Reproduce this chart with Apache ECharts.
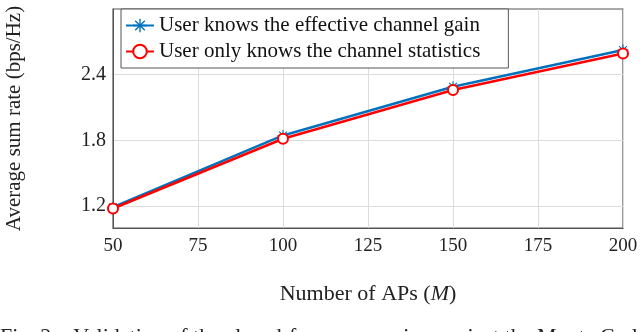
<!DOCTYPE html>
<html>
<head>
<meta charset="utf-8">
<script src="https://cdn.jsdelivr.net/npm/echarts@6/dist/echarts.min.js"></script>
<style>
html, body { margin: 0; padding: 0; background: #fff; }
#chart { width: 640px; height: 332px; }
</style>
</head>
<body>
<div id="chart"></div>
<script>
const apCounts = [50, 100, 150, 200];
const knowsGain = [1.19, 1.845, 2.29, 2.625];
const knowsStats = [1.178, 1.815, 2.26, 2.594];
const yTicks = [1.2, 1.8, 2.4];
const seriesNames = ['User knows the effective channel gain', 'User only knows the channel statistics'];

const serif = 'Liberation Serif';
const asterisk = 'path://M-1,-10L1,-10L1,10L-1,10Z M-10,-1L10,-1L10,1L-10,1Z ' +
    'M-7.78,-6.36L-6.36,-7.78L7.78,6.36L6.36,7.78Z M6.36,-7.78L7.78,-6.36L-6.36,7.78L-7.78,6.36Z';

const chart = echarts.init(document.getElementById('chart'));

const option = {
    animation: false,
    grid: {
        left: 113, right: 17, top: 9, bottom: 104,
        outerBoundsMode: 'none',
        containLabel: false,
        show: true, borderColor: '#555', borderWidth: 1.2
    },
    legend: {
        orient: 'vertical',
        left: 121, top: 9,
        padding: [6, 28, 6, 4],
        itemGap: 5,
        itemWidth: 28, itemHeight: 17,
        backgroundColor: '#fff',
        borderColor: '#555', borderWidth: 1,
        textStyle: { fontFamily: serif, fontSize: 21, color: '#111' },
        data: seriesNames
    },
    xAxis: {
        type: 'value',
        min: 50, max: 200, interval: 25,
        name: 'Number of APs ({it|M})',
        nameLocation: 'middle',
        nameGap: 55,
        nameTextStyle: {
            fontFamily: serif, fontSize: 22, color: '#222',
            rich: { it: { fontFamily: serif, fontSize: 22, fontStyle: 'italic', color: '#222' } }
        },
        axisLine: { show: true, lineStyle: { color: '#555' } },
        axisTick: { show: false },
        axisLabel: { fontFamily: serif, fontSize: 19, color: '#222', margin: 9 },
        splitLine: { show: true, lineStyle: { color: '#dcdcdc' } }
    },
    yAxis: {
        type: 'value',
        min: 1.0, max: 3.0,
        name: 'Average sum rate (bps/Hz)',
        nameLocation: 'middle',
        nameGap: 88,
        nameTextStyle: { fontFamily: serif, fontSize: 21, color: '#222' },
        axisLine: { show: true, lineStyle: { color: '#555' } },
        axisTick: { show: false, customValues: yTicks },
        axisLabel: {
            customValues: yTicks,
            fontFamily: serif, fontSize: 20, color: '#222', margin: 7,
            formatter: v => v.toFixed(1)
        },
        splitLine: { show: true, lineStyle: { color: '#dcdcdc' } }
    },
    series: [
        {
            name: seriesNames[0],
            type: 'line',
            data: apCounts.map((m, i) => [m, knowsGain[i]]),
            symbol: asterisk,
            symbolSize: 11,
            lineStyle: { color: '#0072BD', width: 2.5 },
            itemStyle: { color: '#0072BD' }
        },
        {
            name: seriesNames[1],
            type: 'line',
            data: apCounts.map((m, i) => [m, knowsStats[i]]),
            symbol: 'emptyCircle',
            symbolSize: 10,
            lineStyle: { color: '#ff0000', width: 2.5 },
            itemStyle: { color: '#ff0000', borderColor: '#ff0000', borderWidth: 2.5 }
        }
    ],
    graphic: [
        {
            type: 'text',
            left: 0, top: 326,
            style: {
                text: 'Fig. 2.   Validation of the closed-form expression against the Monte Carlo',
                fontFamily: serif, fontSize: 22, fill: '#222'
            }
        }
    ]
};

chart.setOption(option);

window.addEventListener('resize', function () {
    chart.resize();
});
</script>
</body>
</html>
